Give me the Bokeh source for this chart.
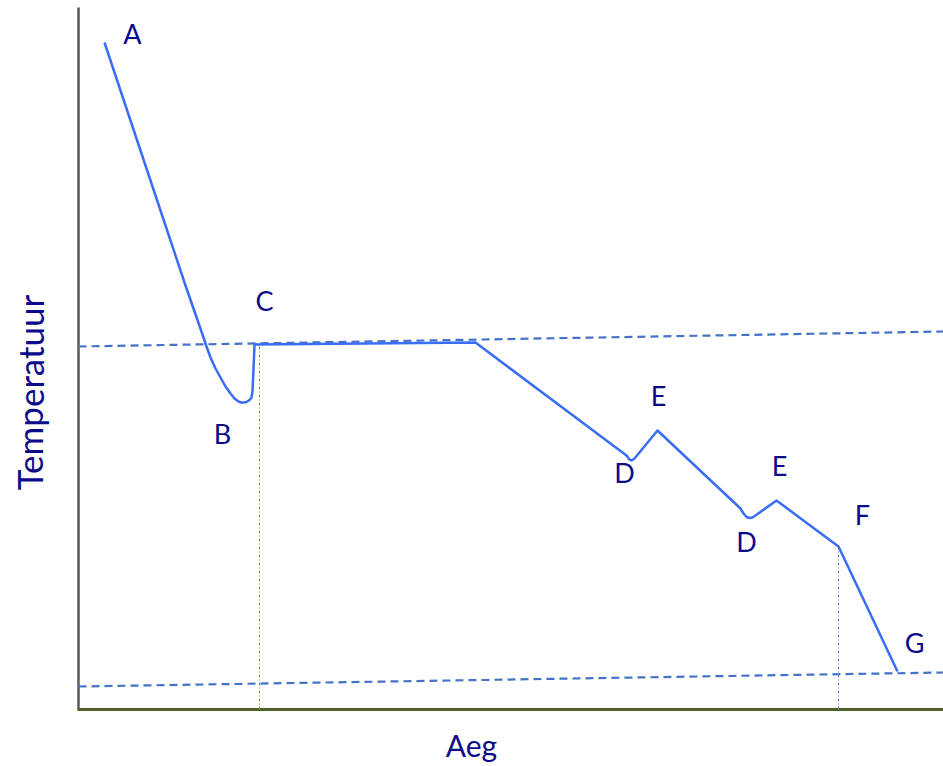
from bokeh.plotting import figure
from bokeh.models import Range1d
from bokeh.embed import file_html
from bokeh.resources import INLINE
from bokeh.core.properties import value

# Cooling curve (arbitrary units: time -> x, temperature -> y)
curve_time = [26, 52, 82, 107, 124, 128, 132, 137, 142, 147, 152, 156, 160, 163,
              165, 168, 171, 173, 174, 175, 176,
              397, 548, 551, 553, 556, 579, 662, 665, 668, 671, 674, 677, 698,
              760, 819]
curve_temp = [667, 589, 499, 424, 375, 363, 352, 341, 332, 323, 316, 311, 308, 307,
              307, 307.5, 309.5, 312, 318, 340, 365,
              367, 254, 250, 249, 251, 279, 201, 196, 192.5, 191.5, 192, 194, 209,
              163, 38]

# Reference (dashed) temperature levels
upper_ref_time = [0, 865]
upper_ref_temp = [363, 378]
lower_ref_time = [0, 865]
lower_ref_temp = [23, 37]

# Vertical dotted markers
marker_time = [181, 760]
marker_temp = [365, 163]

# Point labels
point_labels = ["A", "B", "C", "D", "E", "D", "E", "F", "G"]
label_time = [54, 144, 186, 546, 580, 668, 701, 784, 836]
label_temp = [676, 276, 409, 237, 314, 168, 244, 195, 67]

# Axis extents
time_max = 865
temp_max = 702

x_title = "Aeg"
y_title = "Temperatuur"

TEXT_COLOR = "#0b0b8a"
FONT = "Lato"

p = figure(width=943, height=766, output_backend="svg", toolbar_location=None,
           x_range=Range1d(-78, 865), y_range=Range1d(-57, 709),
           x_axis_type=None, y_axis_type=None,
           min_border_left=0, min_border_right=0, min_border_top=0,
           min_border_bottom=0)
p.outline_line_color = None
p.xgrid.visible = False
p.ygrid.visible = False
p.background_fill_color = "white"
p.border_fill_color = "white"

# axis lines
p.segment(x0=[0], y0=[0], x1=[0], y1=[temp_max], line_color="#595959",
          line_width=2.5)
p.segment(x0=[-1], y0=[0], x1=[time_max], y1=[0], line_color="#4f6228",
          line_width=3)

# dashed reference lines
p.line(upper_ref_time, upper_ref_temp, line_color="#4472c4", line_width=2.2,
       line_dash="8 5")
p.line(lower_ref_time, lower_ref_temp, line_color="#4472c4", line_width=2.2,
       line_dash="8 5")

# vertical dotted lines
p.segment(x0=marker_time, y0=[0, 0], x1=marker_time, y1=marker_temp,
          line_color="#5b84d0", line_width=1, line_dash="3 2 1 2")

# curve
p.line(curve_time, curve_temp, line_color="#3a6cf5", line_width=2.5,
       line_join="round")

# point labels
p.text(x=label_time, y=label_temp, text=point_labels,
       text_font=value(FONT), text_font_size="27px", text_color=TEXT_COLOR,
       text_align="center", text_baseline="middle")

# axis titles
p.text(x=[393], y=[-35], text=[x_title], text_font=value(FONT),
       text_font_size="30px", text_color=TEXT_COLOR,
       text_align="center", text_baseline="middle")
p.text(x=[-49], y=[317], text=[y_title], text_font=value(FONT),
       text_font_size="35px", text_color=TEXT_COLOR,
       text_align="center", text_baseline="middle", angle=1.5707963)

open("out.html", "w").write(file_html(p, INLINE))
